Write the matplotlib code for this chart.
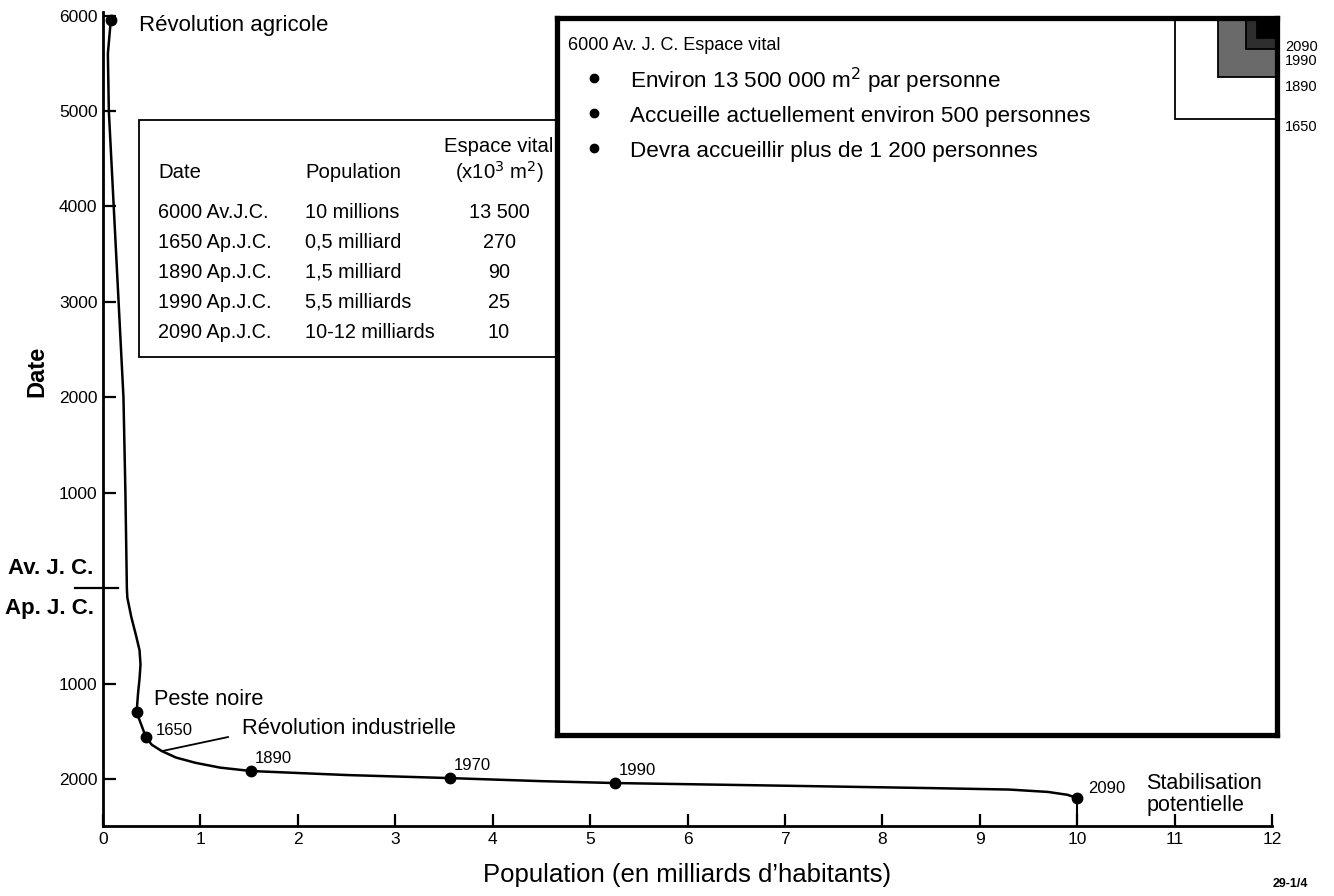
import numpy as np
import matplotlib
matplotlib.use("Agg")
import matplotlib.pyplot as plt
from matplotlib.patches import Rectangle

plt.rcParams['font.family'] = ['Liberation Sans', 'DejaVu Sans']

# ---------------- data (years: negative = Av. J.C.) ----------------
curve_pop = [0.08, 0.05, 0.06, 0.11, 0.16, 0.21, 0.23, 0.245, 0.25, 0.29, 0.34,
             0.375, 0.385, 0.375, 0.36, 0.345, 0.44, 0.50, 0.60, 0.75, 0.95,
             1.20, 1.52, 2.50, 3.56, 4.50, 5.26, 7.00, 8.50, 9.30, 9.70, 9.90, 10.0]
curve_year = [-5950, -5600, -5000, -4000, -3000, -2000, -1000, 0, 100, 300, 500,
              650, 800, 950, 1100, 1300, 1560, 1640, 1705, 1775, 1830,
              1880, 1916, 1958, 1990, 2022, 2042, 2070, 2095, 2110, 2135, 2165, 2199]

pt_pop = [0.08, 0.345, 0.44, 1.52, 3.56, 5.26, 10.0]
pt_year = [-5950, 1300, 1560, 1916, 1990, 2042, 2199]
pt_labels = ['', '', '1650', '1890', '1970', '1990', '2090']

x_ticks = list(range(0, 13))
y_ticks = [-6000, -5000, -4000, -3000, -2000, -1000, 1000, 2000]
y_ticklabels = ['6000', '5000', '4000', '3000', '2000', '1000', '1000', '2000']

tab_dates = ['6000 Av.J.C.', '1650 Ap.J.C.', '1890 Ap.J.C.', '1990 Ap.J.C.', '2090 Ap.J.C.']
tab_pops = ['10 millions', '0,5 milliard', '1,5 milliard', '5,5 milliards', '10-12 milliards']
tab_space = [13500, 270, 90, 25, 10]
tab_space_txt = ['13 500', '270', '90', '25', '10']
square_years = ['6000', '1650', '1890', '1990', '2090']

bullets = ['Environ 13 500 000 m$^{2}$ par personne',
           'Accueille actuellement environ 500 personnes',
           'Devra accueillir plus de 1 200 personnes']

W, H = 1334, 896
fig = plt.figure(figsize=(W / 100, H / 100), dpi=100)

def fx(px):
    return px / W

def fy(py):
    return 1 - py / H

# ---------------- main axes ----------------
ax = fig.add_axes([fx(103), fy(826), fx(1272) - fx(103), fy(12) - fy(826)])
ax.set_xlim(0, 12)
ax.set_ylim(2492, -6037)
for s in ['top', 'right']:
    ax.spines[s].set_visible(False)
for s in ['left', 'bottom']:
    ax.spines[s].set_linewidth(2.0)

ax.set_xticks(x_ticks)
ax.set_xticklabels([str(v) for v in x_ticks], fontsize=12.5)
ax.set_yticks(y_ticks)
ax.set_yticklabels(y_ticklabels, fontsize=12.5)
ax.tick_params(axis='both', direction='in', length=9, width=1.6, pad=4)

# BC / AD separator
ax.plot([-0.024, 0.013], [0, 0], color='black', lw=1.6,
        transform=ax.get_yaxis_transform(), clip_on=False)
fig.text(fx(8), fy(568), 'Av. J. C.', fontsize=16, fontweight='bold', ha='left', va='center')
fig.text(fx(5), fy(608), 'Ap. J. C.', fontsize=16, fontweight='bold', ha='left', va='center')

# curve and points
ax.plot(curve_pop, curve_year, color='black', lw=1.8, zorder=3,
        solid_joinstyle='round')
ax.plot(pt_pop, pt_year, 'o', color='black', ms=7.5, zorder=4)
ax.plot([pt_pop[-1], pt_pop[-1]], [pt_year[-1], 2492], color='black', lw=1.5, zorder=3)

for x, y, lab in zip(pt_pop, pt_year, pt_labels):
    if not lab:
        continue
    if lab == '1650':
        off = (7, 4.5)
    elif lab == '2090':
        off = (8, 7)
    else:
        off = (2.5, 9)
    ax.annotate(lab, (x, y), xytext=off, textcoords='offset points',
                fontsize=12, ha='left', va='center')

ax.text(0.37, -5895, 'Révolution agricole', fontsize=16, ha='left', va='center')
ax.text(0.52, 1170, 'Peste noire', fontsize=15.7, ha='left', va='center')
ax.text(1.427, 1466, 'Révolution industrielle', fontsize=15.8, ha='left', va='center')
ax.plot([0.606, 1.283], [1707, 1560], color='black', lw=1.3)
ax.text(10.71, 2160, 'Stabilisation\npotentielle', fontsize=15.5, ha='left',
        va='center', linespacing=1.05)

ax.set_xlabel("Population (en milliards d\u2019habitants)", fontsize=18.5, labelpad=12)
ax.set_ylabel('Date', fontsize=17, fontweight='bold')
ax.yaxis.set_label_coords(-0.047, 0.558)

fig.text(fx(1290), fy(884), '29-1/4', fontsize=9, fontweight='bold',
         ha='center', va='center')

# ---------------- table box ----------------
fig.add_artist(Rectangle((fx(139), fy(357)), fx(562) - fx(139), fy(120) - fy(357),
                         transform=fig.transFigure, fill=False, lw=1.3,
                         edgecolor='black', zorder=1))
tfs = 14.3
hfs = 14.6
fig.text(fx(158), fy(172), 'Date', fontsize=hfs, ha='left', va='center')
fig.text(fx(305), fy(172), 'Population', fontsize=hfs, ha='left', va='center')
fig.text(fx(499), fy(147), 'Espace vital', fontsize=hfs, ha='center', va='center')
fig.text(fx(499), fy(172), '(x10$^{3}$ m$^{2}$)', fontsize=hfs, ha='center', va='center')
row_y = [212, 242, 272, 302, 332]
for ry, d, p, s in zip(row_y, tab_dates, tab_pops, tab_space_txt):
    fig.text(fx(158), fy(ry), d, fontsize=tfs, ha='left', va='center')
    fig.text(fx(305), fy(ry), p, fontsize=tfs, ha='left', va='center')
    fig.text(fx(499), fy(ry), s, fontsize=tfs, ha='center', va='center')

# ---------------- big "espace vital" box ----------------
S = np.sqrt(tab_space[0])
bx = fig.add_axes([fx(557), fy(735), fx(1277) - fx(557), fy(18) - fy(735)])
bx.set_xlim(0, S)
bx.set_ylim(0, S)
bx.set_xticks([])
bx.set_yticks([])
for sp in bx.spines.values():
    sp.set_linewidth(3.8)
bx.set_zorder(5)

fills = {'1650': 'white', '1890': '#6a6a6a', '1990': '#2e2e2e', '2090': 'black'}
lab_off = {'1650': -8, '1890': -10, '1990': -12, '2090': -9}
for yr, area in zip(square_years[1:], tab_space[1:]):
    s = np.sqrt(area)
    bx.add_patch(Rectangle((S - s, S - s), s, s, facecolor=fills[yr],
                           edgecolor='black', lw=1.3))
    bx.annotate(yr, (1.0, S - s), xycoords=('axes fraction', 'data'),
                xytext=(8, lab_off[yr]), textcoords='offset pixels', ha='left',
                va='center', fontsize=10.5, annotation_clip=False)

bx.text(0.015, 0.962, '6000 Av. J. C. Espace vital', transform=bx.transAxes,
        fontsize=13, ha='left', va='center')
for i, b in enumerate(bullets):
    yy = 0.912 - i * 0.049
    bx.plot([0.052], [yy + 0.005], 'o', color='black', ms=6, transform=bx.transAxes)
    bx.text(0.102, yy, b, transform=bx.transAxes, fontsize=16.2, ha='left', va='center')

fig.savefig('out.png', dpi=100)
